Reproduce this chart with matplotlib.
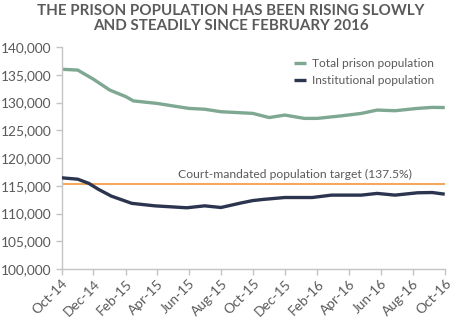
import datetime as dt

import matplotlib
matplotlib.use("Agg")
import matplotlib.pyplot as plt
import matplotlib.dates as mdates

# values
total_dates = ["2014-10-01", "2014-11-01", "2014-12-01", "2015-01-01", "2015-02-01",
               "2015-02-15", "2015-04-01", "2015-05-01", "2015-06-01", "2015-07-01",
               "2015-08-01", "2015-09-01", "2015-10-01", "2015-11-01", "2015-12-01",
               "2016-01-07", "2016-02-01", "2016-03-20", "2016-04-25", "2016-05-25",
               "2016-06-28", "2016-08-10", "2016-09-07", "2016-10-01"]
total_pop = [136000, 135850, 134200, 132250, 131050,
             130300, 129850, 129400, 128950, 128800,
             128350, 128200, 128050, 127300, 127750,
             127150, 127150, 127630, 128050, 128650,
             128530, 128950, 129130, 129100]

inst_dates = ["2014-10-01", "2014-11-01", "2014-11-22", "2014-12-10", "2015-01-04",
              "2015-02-12", "2015-03-28", "2015-05-28", "2015-07-01", "2015-08-01",
              "2015-09-10", "2015-10-01", "2015-10-20", "2015-12-01", "2016-01-22",
              "2016-02-28", "2016-04-25", "2016-05-25", "2016-06-28", "2016-08-10",
              "2016-09-07", "2016-10-01"]
inst_pop = [116450, 116200, 115450, 114400, 113150,
            111850, 111400, 111050, 111400, 111100,
            111950, 112350, 112550, 112900, 112900,
            113330, 113330, 113640, 113330, 113750,
            113800, 113500]

target = 115400
target_label = "Court-mandated population target (137.5%)"
title = "THE PRISON POPULATION HAS BEEN RISING SLOWLY\nAND STEADILY SINCE FEBRUARY 2016"

GREEN = "#7fa893"
NAVY = "#2c3550"
ORANGE = "#f4a75e"
TEXT = "#5a5a5a"
AXIS = "#c4c4c4"

plt.rcParams["font.family"] = ["Lato", "DejaVu Sans"]


def to_dates(items):
    return [dt.datetime.strptime(s, "%Y-%m-%d") for s in items]


fig = plt.figure(figsize=(4.59, 3.36), dpi=100)
ax = fig.add_axes([0.134, 0.199, 0.835, 0.661])

ax.axhline(target, color=ORANGE, lw=1.5, zorder=1)
ax.plot(to_dates(total_dates), total_pop, color=GREEN, lw=2.4,
        label="Total prison population", solid_capstyle="butt", zorder=2)
ax.plot(to_dates(inst_dates), inst_pop, color=NAVY, lw=2.4,
        label="Institutional population", solid_capstyle="butt", zorder=3)

ax.text(dt.datetime(2015, 12, 20), target + 700, target_label, ha="center", va="bottom",
        fontsize=8.7, color=TEXT)

x0, x1 = dt.datetime(2014, 10, 1), dt.datetime(2016, 10, 1)
ax.set_xlim(x0, x1)
ax.set_ylim(100000, 140000)
ax.set_yticks(range(100000, 140001, 5000))
ax.yaxis.set_major_formatter(matplotlib.ticker.FuncFormatter(lambda v, p: f"{int(v):,}"))

ax.xaxis.set_major_locator(mdates.MonthLocator(bymonth=[2, 4, 6, 8, 10, 12]))
ax.xaxis.set_major_formatter(mdates.DateFormatter("%b-%y"))
for lab in ax.get_xticklabels():
    lab.set_rotation(45)
    lab.set_ha("right")
    lab.set_rotation_mode("anchor")

for side in ("top", "right"):
    ax.spines[side].set_visible(False)
for side in ("left", "bottom"):
    ax.spines[side].set_color(AXIS)
    ax.spines[side].set_linewidth(1.0)
ax.tick_params(axis="both", colors=AXIS, labelcolor=TEXT, labelsize=9.9,
               length=4, width=1.0, direction="out")
ax.tick_params(axis="y", pad=3)
ax.tick_params(axis="x", pad=2)

leg = ax.legend(loc="upper right", bbox_to_anchor=(1.0, 1.0), frameon=False,
                fontsize=8.6, handlelength=1.0, handletextpad=0.5, labelspacing=0.5,
                labelcolor=TEXT)

fig.suptitle(title, x=0.502, y=0.988, fontsize=10.9, fontweight="bold", color=TEXT,
             linespacing=1.1, va="top")

fig.savefig("out.png", dpi=100, facecolor="white")
